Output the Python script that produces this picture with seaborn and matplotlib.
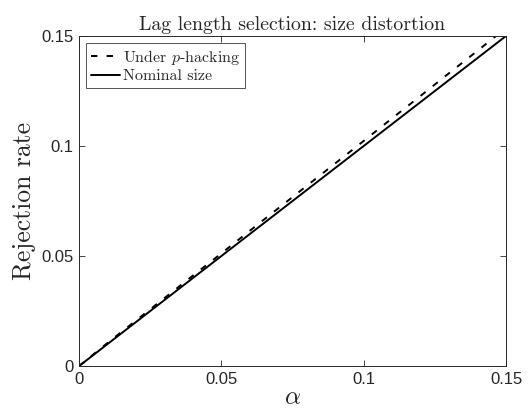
import numpy as np
import pandas as pd
import matplotlib
matplotlib.use("Agg")
import matplotlib.pyplot as plt
import seaborn as sns

# valores
alpha = [0.0, 0.01, 0.02, 0.03, 0.04, 0.05, 0.06, 0.07, 0.08,
         0.09, 0.10, 0.11, 0.12, 0.13, 0.14, 0.15]
rej_phack = [0.0, 0.0105, 0.0207, 0.0309, 0.0411, 0.0512, 0.0615, 0.0717, 0.0819,
             0.0921, 0.1023, 0.1126, 0.1228, 0.1331, 0.1433, 0.1536]
rej_nominal = [0.0, 0.01, 0.02, 0.03, 0.04, 0.05, 0.06, 0.07, 0.08,
               0.09, 0.10, 0.11, 0.12, 0.13, 0.14, 0.15]
ticks = [0, 0.05, 0.1, 0.15]
tick_labels = ["0", "0.05", "0.1", "0.15"]

df = pd.DataFrame({
    "alpha": alpha * 2,
    "rate": rej_phack + rej_nominal,
    "serie": ["Under $p$-hacking"] * len(alpha) + ["Nominal size"] * len(alpha),
})

sns.set_style("ticks")
plt.rcParams["font.family"] = ["cmr10", "DejaVu Serif"]
plt.rcParams["mathtext.fontset"] = "cm"
plt.rcParams["axes.formatter.use_mathtext"] = True

fig = plt.figure(figsize=(5.3, 4.17), dpi=100)
ax = fig.add_axes([0.149, 0.122, 0.806, 0.792])

sns.lineplot(data=df, x="alpha", y="rate", hue="serie", style="serie",
             palette=["black", "black"], dashes=[(3.3, 4.7), ""],
             linewidth=1.4, ax=ax)

ax.set_xlim(0, 0.15)
ax.set_ylim(0, 0.15)
ax.set_xticks(ticks)
ax.set_yticks(ticks)
ax.set_xticklabels(tick_labels, family="Liberation Sans", fontsize=12, color="#262626")
ax.set_yticklabels(tick_labels, family="Liberation Sans", fontsize=12, color="#262626")
ax.tick_params(direction="in", top=True, right=True, length=4,
               color="#262626", width=0.6, pad=4)
for s in ax.spines.values():
    s.set_visible(True)
    s.set_color("#262626")
    s.set_linewidth(0.7)

ax.set_title("Lag length selection: size distortion", fontsize=14.3, pad=4)
ax.set_xlabel(r"$\alpha$", fontsize=18, labelpad=0)
ax.set_ylabel("Rejection rate", fontsize=18.5, labelpad=4)

leg = ax.legend(loc="upper left", fontsize=11.5, frameon=True, fancybox=False,
                handlelength=1.8, handletextpad=0.2, borderpad=0.3,
                labelspacing=0.15, borderaxespad=0.45)
leg.get_frame().set_edgecolor("#262626")
leg.get_frame().set_linewidth(0.7)
leg.set_title(None)

fig.savefig("out.png", dpi=100)
